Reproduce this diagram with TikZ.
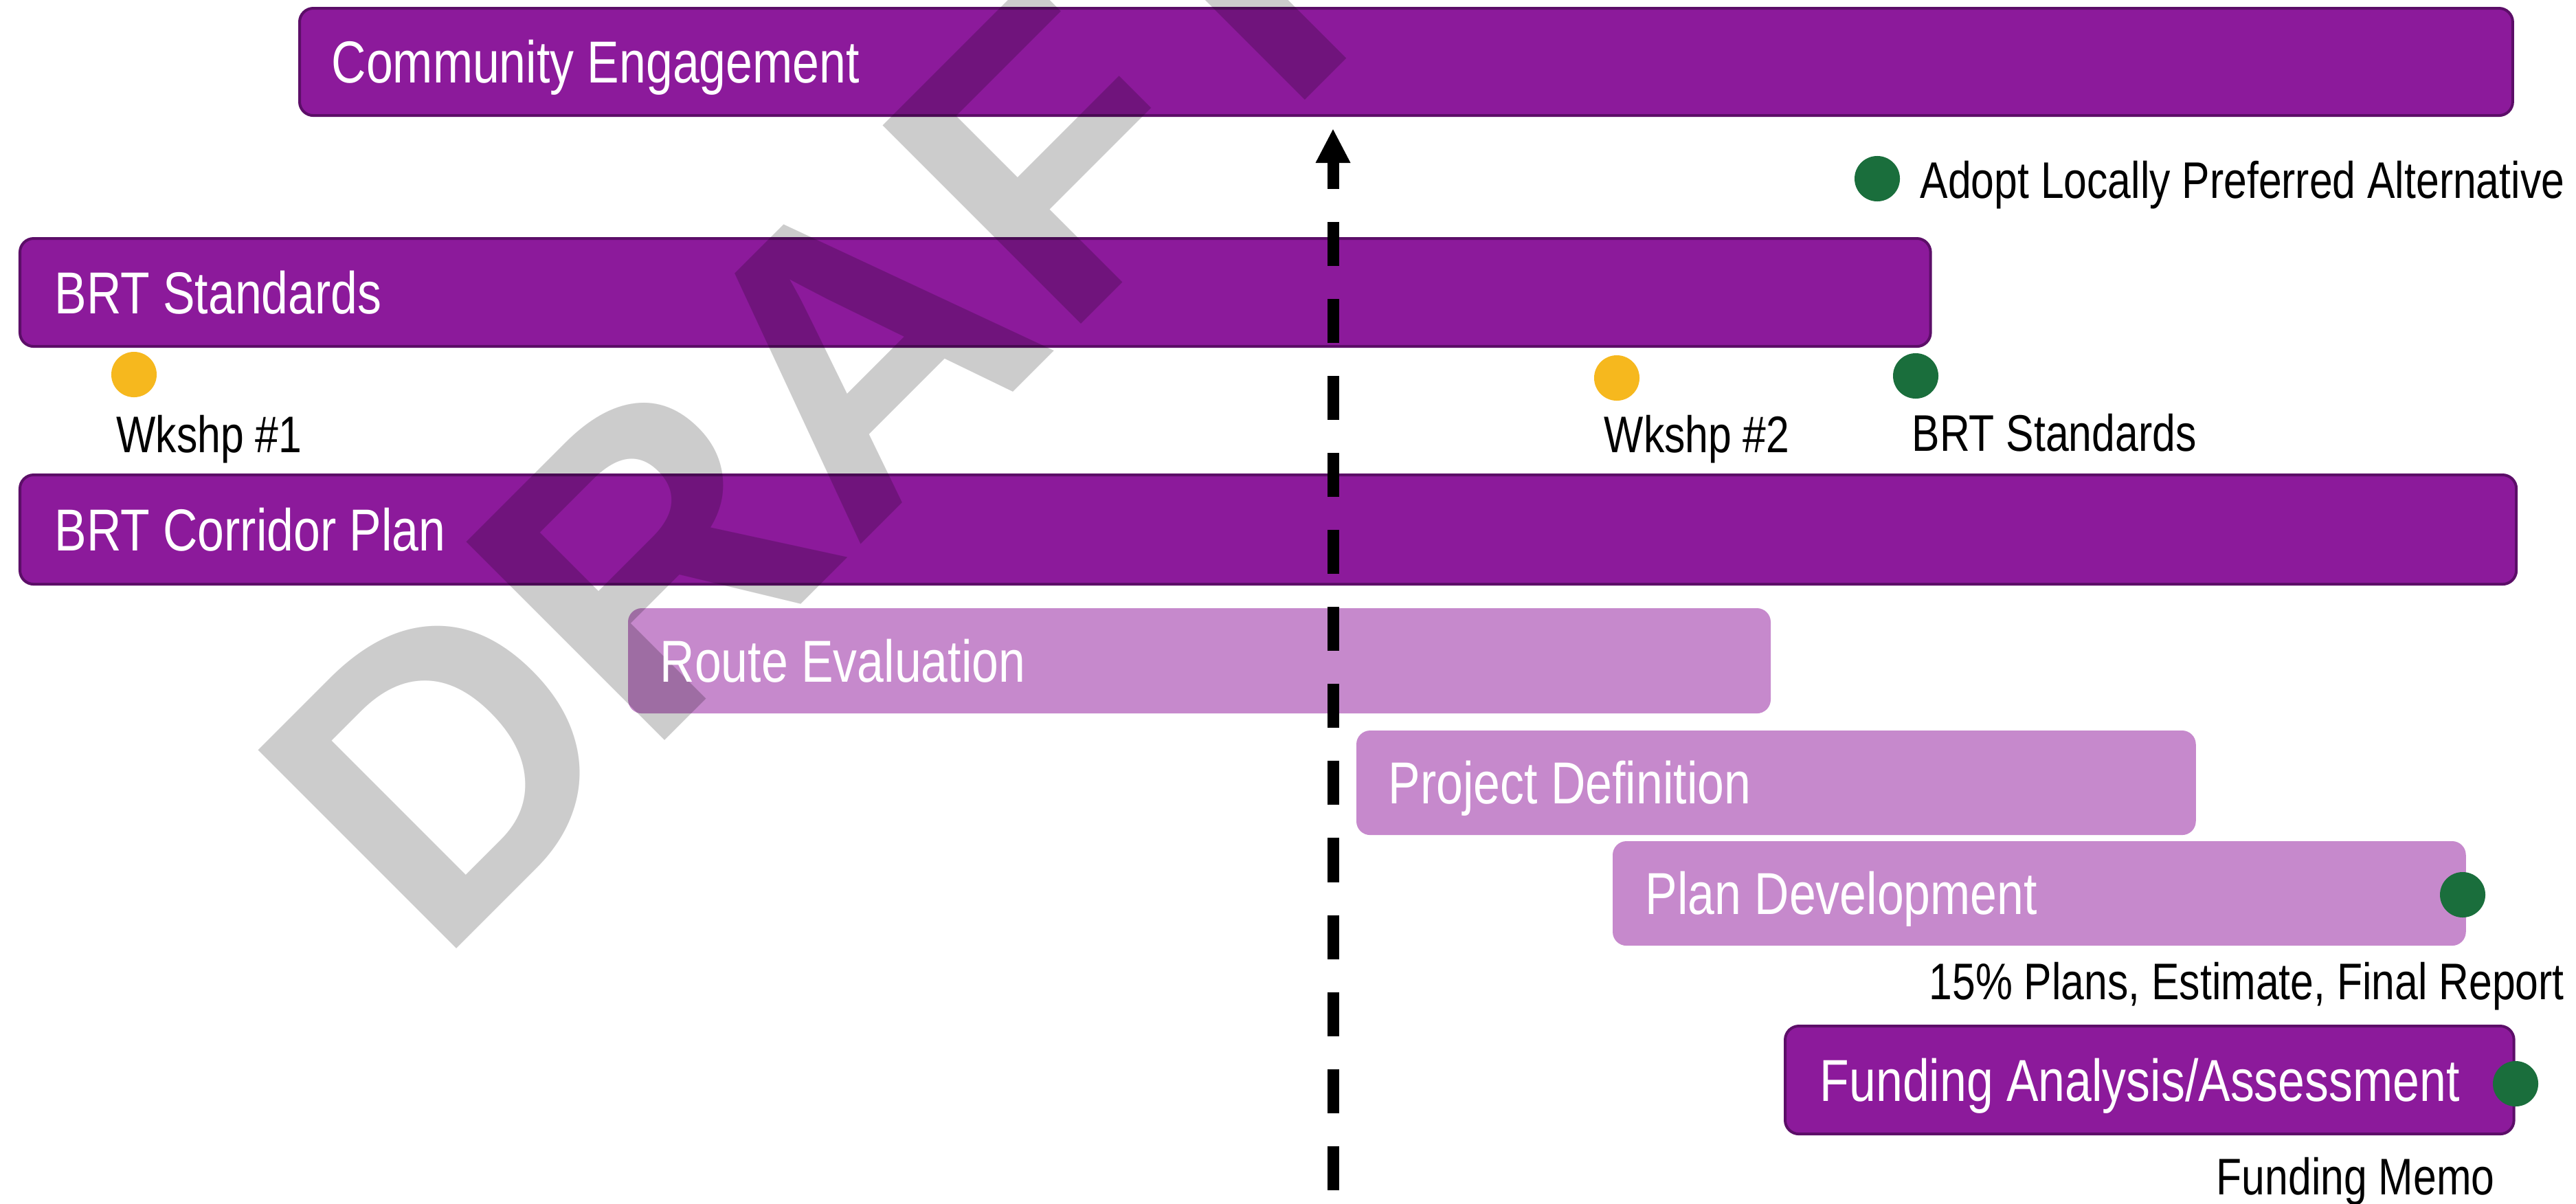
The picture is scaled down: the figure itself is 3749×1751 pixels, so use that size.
\documentclass[tikz,border=0pt]{standalone}
\usepackage{fontspec}
\setmainfont{Liberation Sans}
\newfontfamily\condfont[FakeStretch=0.81]{Liberation Sans}
\newfontfamily\wmfont{Liberation Sans}
\usetikzlibrary{arrows.meta}
\newlength\px
\setlength\px{0.01cm}
\definecolor{darkpurple}{RGB}{140,26,155}
\definecolor{barborder}{RGB}{92,14,104}
\definecolor{lightpurple}{RGB}{198,137,204}
\definecolor{dotgreen}{RGB}{26,110,60}
\definecolor{dotyellow}{RGB}{246,184,30}
\begin{document}
\begin{tikzpicture}[x=0.01cm,y=-0.01cm,
  bar/.style={rectangle, rounded corners=0.2cm, inner sep=0pt, outer sep=0pt, anchor=north west},
  darkbar/.style={bar, fill=darkpurple, draw=barborder, line width=0.04cm},
  lightbar/.style={bar, fill=lightpurple},
  bartext/.style={font=\condfont\fontsize{24.5pt}{28pt}\selectfont, text=white, anchor=west, inner sep=0pt, text height=17.54pt, text depth=0pt},
  blacktext/.style={font=\condfont\fontsize{21.3pt}{25pt}\selectfont, text=black, anchor=west, inner sep=0pt, text height=15.25pt, text depth=0pt},
  dot/.style={circle, minimum size=0.66cm, inner sep=0pt, outer sep=0pt},
  greendot/.style={dot, fill=dotgreen},
  yellowdot/.style={dot, fill=dotyellow},
  watermark/.style={font=\wmfont\bfseries\fontsize{168.7pt}{170pt}\selectfont, text=black, text opacity=0.2, inner sep=0pt, rotate=45, anchor=base west},
  timeline/.style={line width=0.17cm, dash pattern=on 0.64cm off 0.48cm, dash phase=0.23cm, {Triangle[length=0.5cm,width=0.47cm]}-}
]
\useasboundingbox (0,0) rectangle (3749,1751);
\fill[white] (0,0) rectangle (3749,1751);

% bars
\node[darkbar, minimum width=32.19cm, minimum height=1.56cm] (ce) at (436,12) {};
\node[darkbar, minimum width=27.79cm, minimum height=1.57cm] (bs) at (29,347) {};
\node[darkbar, minimum width=36.31cm, minimum height=1.59cm] (cp) at (29,691) {};
\node[lightbar, minimum width=16.62cm, minimum height=1.53cm] (re) at (914,885) {};
\node[lightbar, minimum width=12.21cm, minimum height=1.52cm] (pd) at (1974,1063) {};
\node[lightbar, minimum width=12.41cm, minimum height=1.52cm] (pv) at (2347,1224) {};
\node[darkbar, minimum width=10.60cm, minimum height=1.57cm] (fa) at (2598,1493) {};

% watermark
\node[watermark] (wm) at (636,1409) {DRAFT};

% bar labels
\node[bartext] (ceT) at ([xshift=0.46cm]ce.west) {Community Engagement};
\node[bartext] (bsT) at ([xshift=0.50cm]bs.west) {BRT Standards};
\node[bartext] (cpT) at ([xshift=0.50cm]cp.west) {BRT Corridor Plan};
\node[bartext] (reT) at ([xshift=0.46cm]re.west) {Route Evaluation};
\node[bartext] (pdT) at ([xshift=0.46cm]pd.west) {Project Definition};
\node[bartext] (pvT) at ([xshift=0.47cm]pv.west) {Plan Development};
\node[bartext] (faT) at ([xshift=0.50cm]fa.west) {Funding Analysis/Assessment};

% milestones
\node[greendot] (m1) at (2732,260) {};
\node[blacktext] (m1T) at (2794,262) {Adopt Locally Preferred Alternative};
\node[yellowdot] (w1) at (195,545) {};
\node[blacktext] (w1T) at (169,632) {Wkshp \#1};
\node[yellowdot] (w2) at (2353,550) {};
\node[blacktext] (w2T) at (2334,632) {Wkshp \#2};
\node[greendot] (m2) at (2788,547) {};
\node[blacktext] (m2T) at (2782,630) {BRT Standards};
\node[greendot] (m3) at (3584,1302) {};
\node[blacktext] (m3T) at (2807,1428) {15\% Plans, Estimate, Final Report};
\node[greendot] (m4) at (3661,1577) {};
\node[blacktext] (m4T) at (3225,1712) {Funding Memo};

% current-time marker
\coordinate (arrtop) at (1940,187);
\coordinate (arrbot) at (1940,1751);
\draw[timeline] (arrtop) -- (arrbot);
\end{tikzpicture}
\end{document}
